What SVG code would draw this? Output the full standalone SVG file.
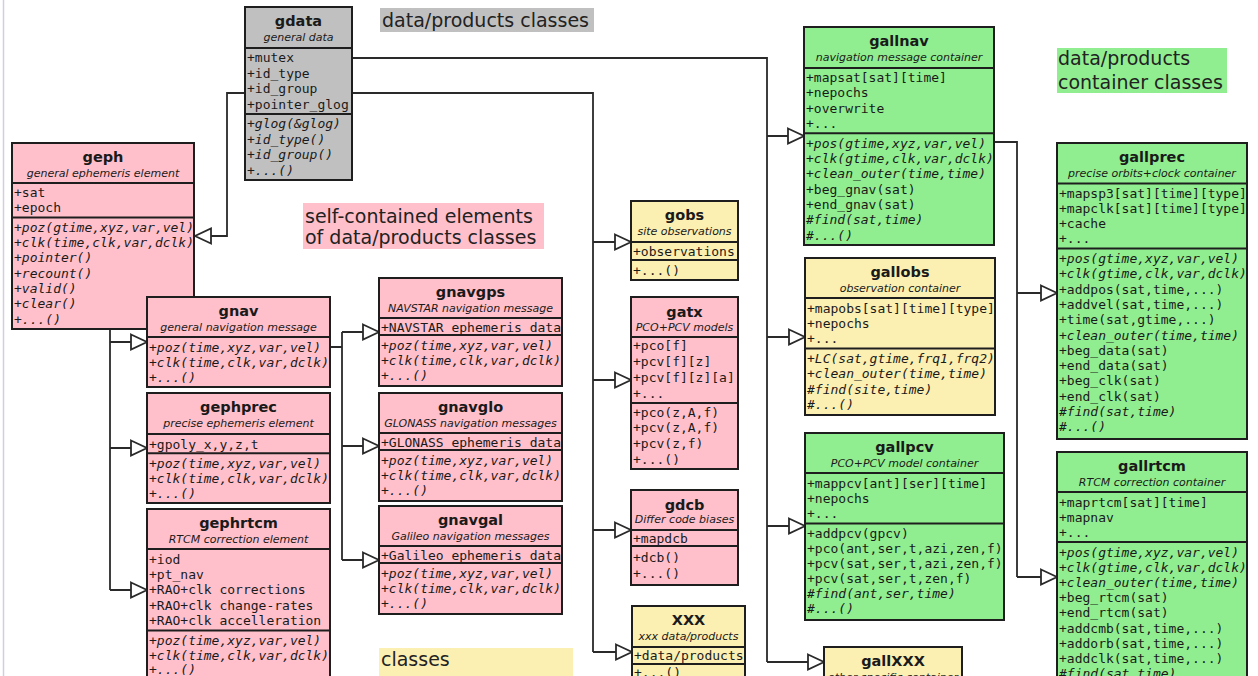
<svg xmlns="http://www.w3.org/2000/svg" width="1258" height="676" viewBox="0 0 1258 676">
<style>
.box{stroke:#1e1e1e;stroke-width:2}
.pink{fill:#ffc0cb}.green{fill:#90ee90}.yellow{fill:#fcefb2}.gray{fill:#c0c0c0}
.sep{stroke:#1e1e1e;stroke-width:2}
.t{font-family:"DejaVu Sans",sans-serif;font-weight:bold;font-size:14.5px;text-anchor:middle;fill:#1a1a1a}
.s{font-family:"DejaVu Sans",sans-serif;font-style:italic;font-size:11px;text-anchor:middle;fill:#1a1a1a}
.m{font-family:"DejaVu Sans Mono",monospace;font-size:13px;fill:#1a1a1a}
.i{font-style:italic}
.lab{font-family:"DejaVu Sans",sans-serif;font-size:19px;fill:#222}
.c{fill:none;stroke:#2a2a2a;stroke-width:1.8}
.a{marker-end:url(#tri)}
</style>
<defs>
<marker id="tri" markerUnits="userSpaceOnUse" markerWidth="20" markerHeight="20" refX="16" refY="8" orient="auto" overflow="visible">
<path d="M0,0.5 L16,8 L0,15.5 Z" fill="#fff" stroke="#2a2a2a" stroke-width="1.8"/>
</marker>
</defs>
<rect width="1258" height="676" fill="#fff"/>
<line x1="3.5" y1="0" x2="3.5" y2="676" stroke="#cfcfe2" stroke-width="1.5"/>

<g id="labels">
<rect x="380" y="8" width="214" height="24" fill="#c0c0c0"/>
<text class="lab" x="382" y="27">data/products classes</text>
<rect x="303" y="203" width="241" height="46" fill="#ffc0cb"/>
<text class="lab" x="305" y="223">self-contained elements</text>
<text class="lab" x="305" y="244">of data/products classes</text>
<rect x="1057" y="48" width="170" height="45" fill="#90ee90"/>
<text class="lab" x="1058" y="65">data/products</text>
<text class="lab" x="1058" y="89">container classes</text>
<rect x="379" y="648" width="194" height="30" fill="#fcefb2"/>
<text class="lab" x="381" y="666">classes</text>
</g>

<g id="connectors">
<path class="c a" d="M245,93 H227 V236 H195"/>
<path class="c" d="M352,93 H593 V652"/>
<path class="c a" d="M593,242 H631"/>
<path class="c a" d="M593,380 H631"/>
<path class="c a" d="M593,530 H631"/>
<path class="c a" d="M593,652 H632"/>
<path class="c" d="M352,58 H767 V662"/>
<path class="c a" d="M767,136 H804"/>
<path class="c a" d="M767,337 H805"/>
<path class="c a" d="M767,526 H805"/>
<path class="c a" d="M767,662 H824"/>
<path class="c" d="M994,142 H1017 V577"/>
<path class="c a" d="M1017,293 H1057"/>
<path class="c a" d="M1017,577 H1057"/>
<path class="c" d="M330,347 H342 M342,332 V560"/>
<path class="c a" d="M342,332 H379"/>
<path class="c a" d="M342,446 H379"/>
<path class="c a" d="M342,560 H379"/>
<path class="c" d="M110,329 V590"/>
<path class="c a" d="M110,342 H147"/>
<path class="c a" d="M110,448 H147"/>
<path class="c a" d="M110,590 H147"/>
</g>

<g id="gdata">
<rect class="box gray" x="245" y="7" width="107" height="173"/>
<text class="t" x="298.5" y="26">gdata</text>
<text class="s" x="298.5" y="40.5">general data</text>
<line class="sep" x1="245" y1="48" x2="352" y2="48"/>
<text class="m" x="247" y="62">+mutex</text>
<text class="m" x="247" y="77.5">+id_type</text>
<text class="m" x="247" y="93">+id_group</text>
<text class="m" x="247" y="108.5">+pointer_glog</text>
<line class="sep" x1="245" y1="114" x2="352" y2="114"/>
<text class="m i" x="247" y="128">+glog(&amp;glog)</text>
<text class="m i" x="247" y="143.5">+id_type()</text>
<text class="m i" x="247" y="159">+id_group()</text>
<text class="m i" x="247" y="174.5">+...()</text>
</g>

<g id="geph">
<rect class="box pink" x="12" y="143" width="182" height="186"/>
<text class="t" x="103" y="162">geph</text>
<text class="s" x="103" y="176.5">general ephemeris element</text>
<line class="sep" x1="12" y1="183" x2="194" y2="183"/>
<text class="m" x="14" y="197">+sat</text>
<text class="m" x="14" y="212.3">+epoch</text>
<line class="sep" x1="12" y1="217.6" x2="194" y2="217.6"/>
<text class="m i" x="14" y="231.8">+poz(gtime,xyz,var,vel)</text>
<text class="m i" x="14" y="247.1">+clk(time,clk,var,dclk)</text>
<text class="m i" x="14" y="262.4">+pointer()</text>
<text class="m i" x="14" y="277.7">+recount()</text>
<text class="m i" x="14" y="293">+valid()</text>
<text class="m i" x="14" y="308.3">+clear()</text>
<text class="m i" x="14" y="323.6">+...()</text>
</g>

<g id="gnav">
<rect class="box pink" x="147" y="297" width="183" height="90"/>
<text class="t" x="238.5" y="316">gnav</text>
<text class="s" x="238.5" y="330.5">general navigation message</text>
<line class="sep" x1="147" y1="337" x2="330" y2="337"/>
<text class="m i" x="149" y="351.5">+poz(time,xyz,var,vel)</text>
<text class="m i" x="149" y="366.5">+clk(time,clk,var,dclk)</text>
<text class="m i" x="149" y="381.5">+...()</text>
</g>

<g id="gephprec">
<rect class="box pink" x="147" y="393" width="183" height="110"/>
<text class="t" x="238.5" y="412">gephprec</text>
<text class="s" x="238.5" y="426.5">precise ephemeris element</text>
<line class="sep" x1="147" y1="434" x2="330" y2="434"/>
<text class="m" x="149" y="448.5">+gpoly_x,y,z,t</text>
<line class="sep" x1="147" y1="453.2" x2="330" y2="453.2"/>
<text class="m i" x="149" y="467.5">+poz(time,xyz,var,vel)</text>
<text class="m i" x="149" y="482.6">+clk(time,clk,var,dclk)</text>
<text class="m i" x="149" y="497.7">+...()</text>
</g>

<g id="gephrtcm">
<rect class="box pink" x="147" y="509" width="183" height="180"/>
<text class="t" x="238.5" y="528">gephrtcm</text>
<text class="s" x="238.5" y="542.5">RTCM correction element</text>
<line class="sep" x1="147" y1="549" x2="330" y2="549"/>
<text class="m" x="149" y="563.5">+iod</text>
<text class="m" x="149" y="578.9">+pt_nav</text>
<text class="m" x="149" y="594.3">+RAO+clk corrections</text>
<text class="m" x="149" y="609.7">+RAO+clk change-rates</text>
<text class="m" x="149" y="625.1">+RAO+clk accelleration</text>
<line class="sep" x1="147" y1="630.5" x2="330" y2="630.5"/>
<text class="m i" x="149" y="644.5">+poz(time,xyz,var,vel)</text>
<text class="m i" x="149" y="659.9">+clk(time,clk,var,dclk)</text>
<text class="m i" x="149" y="674">+...()</text>
</g>

<g id="gnavgps">
<rect class="box pink" x="379" y="278" width="183" height="108"/>
<text class="t" x="470.5" y="297">gnavgps</text>
<text class="s" x="470.5" y="311.5">NAVSTAR navigation message</text>
<line class="sep" x1="379" y1="318" x2="562" y2="318"/>
<text class="m" x="381" y="331.5">+NAVSTAR ephemeris data</text>
<line class="sep" x1="379" y1="335" x2="562" y2="335"/>
<text class="m i" x="381" y="349.5">+poz(time,xyz,var,vel)</text>
<text class="m i" x="381" y="364.5">+clk(time,clk,var,dclk)</text>
<text class="m i" x="381" y="379.5">+...()</text>
</g>

<g id="gnavglo">
<rect class="box pink" x="379" y="393" width="183" height="108"/>
<text class="t" x="470.5" y="412">gnavglo</text>
<text class="s" x="470.5" y="426.5">GLONASS navigation messages</text>
<line class="sep" x1="379" y1="433" x2="562" y2="433"/>
<text class="m" x="381" y="446.5">+GLONASS ephemeris data</text>
<line class="sep" x1="379" y1="450" x2="562" y2="450"/>
<text class="m i" x="381" y="464.5">+poz(time,xyz,var,vel)</text>
<text class="m i" x="381" y="479.5">+clk(time,clk,var,dclk)</text>
<text class="m i" x="381" y="494.5">+...()</text>
</g>

<g id="gnavgal">
<rect class="box pink" x="379" y="506" width="183" height="108"/>
<text class="t" x="470.5" y="525">gnavgal</text>
<text class="s" x="470.5" y="539.5">Galileo navigation messages</text>
<line class="sep" x1="379" y1="546" x2="562" y2="546"/>
<text class="m" x="381" y="559.5">+Galileo ephemeris data</text>
<line class="sep" x1="379" y1="563" x2="562" y2="563"/>
<text class="m i" x="381" y="577.5">+poz(time,xyz,var,vel)</text>
<text class="m i" x="381" y="592.5">+clk(time,clk,var,dclk)</text>
<text class="m i" x="381" y="607.5">+...()</text>
</g>

<g id="gobs">
<rect class="box yellow" x="631" y="201" width="107" height="79"/>
<text class="t" x="684.5" y="220">gobs</text>
<text class="s" x="684.5" y="234.5">site observations</text>
<line class="sep" x1="631" y1="242" x2="738" y2="242"/>
<text class="m" x="633" y="255.5">+observations</text>
<line class="sep" x1="631" y1="260" x2="738" y2="260"/>
<text class="m" x="633" y="274.5">+...()</text>
</g>

<g id="gatx">
<rect class="box pink" x="631" y="297" width="107" height="172"/>
<text class="t" x="684.5" y="317">gatx</text>
<text class="s" x="684.5" y="330.5">PCO+PCV models</text>
<line class="sep" x1="631" y1="337" x2="738" y2="337"/>
<text class="m" x="633" y="350">+pco[f]</text>
<text class="m" x="633" y="366">+pcv[f][z]</text>
<text class="m" x="633" y="382">+pcv[f][z][a]</text>
<text class="m" x="633" y="398">+...</text>
<line class="sep" x1="631" y1="403" x2="738" y2="403"/>
<text class="m" x="633" y="416.5">+pco(z,A,f)</text>
<text class="m" x="633" y="432">+pcv(z,A,f)</text>
<text class="m" x="633" y="447.5">+pcv(z,f)</text>
<text class="m" x="633" y="463.5">+...()</text>
</g>

<g id="gdcb">
<rect class="box pink" x="631" y="490" width="107" height="95"/>
<text class="t" x="684.5" y="509.5">gdcb</text>
<text class="s" x="684.5" y="523">Differ code biases</text>
<line class="sep" x1="631" y1="530" x2="738" y2="530"/>
<text class="m" x="633" y="542.5">+mapdcb</text>
<line class="sep" x1="631" y1="546" x2="738" y2="546"/>
<text class="m" x="633" y="561.5">+dcb()</text>
<text class="m" x="633" y="577.5">+...()</text>
</g>

<g id="XXX">
<rect class="box yellow" x="632" y="606" width="113" height="80"/>
<text class="t" x="688.5" y="625">XXX</text>
<text class="s" x="688.5" y="640">xxx data/products</text>
<line class="sep" x1="632" y1="647" x2="745" y2="647"/>
<text class="m" x="634" y="659.5">+data/products</text>
<line class="sep" x1="632" y1="664" x2="745" y2="664"/>
<text class="m" x="634" y="677">+...()</text>
</g>

<g id="gallnav">
<rect class="box green" x="804" y="27" width="190" height="218"/>
<text class="t" x="899" y="46">gallnav</text>
<text class="s" x="899" y="60.5">navigation message container</text>
<line class="sep" x1="804" y1="68" x2="994" y2="68"/>
<text class="m" x="806" y="82">+mapsat[sat][time]</text>
<text class="m" x="806" y="97.3">+nepochs</text>
<text class="m" x="806" y="112.6">+overwrite</text>
<text class="m" x="806" y="127.9">+...</text>
<line class="sep" x1="804" y1="133.2" x2="994" y2="133.2"/>
<text class="m i" x="806" y="147.8">+pos(gtime,xyz,var,vel)</text>
<text class="m i" x="806" y="163.1">+clk(gtime,clk,var,dclk)</text>
<text class="m i" x="806" y="178.4">+clean_outer(time,time)</text>
<text class="m" x="806" y="193.7">+beg_gnav(sat)</text>
<text class="m" x="806" y="209">+end_gnav(sat)</text>
<text class="m i" x="806" y="224.3">#find(sat,time)</text>
<text class="m i" x="806" y="239.6">#...()</text>
</g>

<g id="gallobs">
<rect class="box yellow" x="805" y="258" width="190" height="157"/>
<text class="t" x="900" y="277">gallobs</text>
<text class="s" x="900" y="291.5">observation container</text>
<line class="sep" x1="805" y1="298" x2="995" y2="298"/>
<text class="m" x="807" y="312.5">+mapobs[sat][time][type]</text>
<text class="m" x="807" y="327.8">+nepochs</text>
<text class="m" x="807" y="343.1">+...</text>
<line class="sep" x1="805" y1="348.5" x2="995" y2="348.5"/>
<text class="m i" x="807" y="362.5">+LC(sat,gtime,frq1,frq2)</text>
<text class="m i" x="807" y="378">+clean_outer(time,time)</text>
<text class="m i" x="807" y="393.5">#find(site,time)</text>
<text class="m i" x="807" y="409">#...()</text>
</g>

<g id="gallpcv">
<rect class="box green" x="805" y="433" width="199" height="187"/>
<text class="t" x="904.5" y="452">gallpcv</text>
<text class="s" x="904.5" y="466.5">PCO+PCV model container</text>
<line class="sep" x1="805" y1="473" x2="1004" y2="473"/>
<text class="m" x="807" y="487.5">+mappcv[ant][ser][time]</text>
<text class="m" x="807" y="502.8">+nepochs</text>
<text class="m" x="807" y="518.1">+...</text>
<line class="sep" x1="805" y1="523.5" x2="1004" y2="523.5"/>
<text class="m" x="807" y="537.5">+addpcv(gpcv)</text>
<text class="m" x="807" y="552.5">+pco(ant,ser,t,azi,zen,f)</text>
<text class="m" x="807" y="567.5">+pcv(sat,ser,t,azi,zen,f)</text>
<text class="m" x="807" y="582.5">+pcv(sat,ser,t,zen,f)</text>
<text class="m i" x="807" y="597.5">#find(ant,ser,time)</text>
<text class="m i" x="807" y="612.5">#...()</text>
</g>

<g id="gallprec">
<rect class="box green" x="1057" y="143" width="190" height="296"/>
<text class="t" x="1152" y="162">gallprec</text>
<text class="s" x="1152" y="176.5">precise orbits+clock container</text>
<line class="sep" x1="1057" y1="183.5" x2="1247" y2="183.5"/>
<text class="m" x="1059" y="197.5">+mapsp3[sat][time][type]</text>
<text class="m" x="1059" y="212.8">+mapclk[sat][time][type]</text>
<text class="m" x="1059" y="228.1">+cache</text>
<text class="m" x="1059" y="243.4">+...</text>
<line class="sep" x1="1057" y1="248.5" x2="1247" y2="248.5"/>
<text class="m i" x="1059" y="263">+pos(gtime,xyz,var,vel)</text>
<text class="m i" x="1059" y="278.3">+clk(gtime,clk,var,dclk)</text>
<text class="m" x="1059" y="293.6">+addpos(sat,time,...)</text>
<text class="m" x="1059" y="308.9">+addvel(sat,time,...)</text>
<text class="m" x="1059" y="324.2">+time(sat,gtime,...)</text>
<text class="m i" x="1059" y="339.5">+clean_outer(time,time)</text>
<text class="m" x="1059" y="354.8">+beg_data(sat)</text>
<text class="m" x="1059" y="370.1">+end_data(sat)</text>
<text class="m" x="1059" y="385.4">+beg_clk(sat)</text>
<text class="m" x="1059" y="400.7">+end_clk(sat)</text>
<text class="m i" x="1059" y="416">#find(sat,time)</text>
<text class="m i" x="1059" y="431.3">#...()</text>
</g>

<g id="gallrtcm">
<rect class="box green" x="1057" y="452" width="190" height="240"/>
<text class="t" x="1152" y="471">gallrtcm</text>
<text class="s" x="1152" y="485.5">RTCM correction container</text>
<line class="sep" x1="1057" y1="492" x2="1247" y2="492"/>
<text class="m" x="1059" y="506.5">+maprtcm[sat][time]</text>
<text class="m" x="1059" y="521.8">+mapnav</text>
<text class="m" x="1059" y="537.1">+...</text>
<line class="sep" x1="1057" y1="542" x2="1247" y2="542"/>
<text class="m i" x="1059" y="556.5">+pos(gtime,xyz,var,vel)</text>
<text class="m i" x="1059" y="571.7">+clk(gtime,clk,var,dclk)</text>
<text class="m i" x="1059" y="586.9">+clean_outer(time,time)</text>
<text class="m" x="1059" y="602.1">+beg_rtcm(sat)</text>
<text class="m" x="1059" y="617.3">+end_rtcm(sat)</text>
<text class="m" x="1059" y="632.5">+addcmb(sat,time,...)</text>
<text class="m" x="1059" y="647.7">+addorb(sat,time,...)</text>
<text class="m" x="1059" y="662.9">+addclk(sat,time,...)</text>
<text class="m i" x="1059" y="678.1">#find(sat,time)</text>
</g>

<g id="gallXXX">
<rect class="box yellow" x="824" y="647" width="138" height="45"/>
<text class="t" x="893" y="666">gallXXX</text>
<text class="s" x="893" y="680.5">other specific container</text>
</g>
</svg>
